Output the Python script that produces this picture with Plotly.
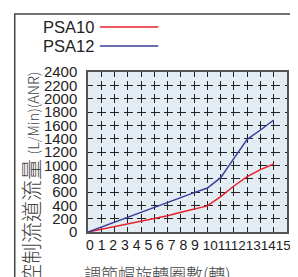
import plotly.graph_objects as go

# ---- data ----
turns = list(range(15))
psa10 = [0, 40, 80, 118, 158, 200, 245, 295, 345, 392, 530, 690, 830, 935, 1020]
psa12 = [0, 75, 148, 220, 292, 365, 440, 515, 590, 660, 815, 1105, 1390, 1530, 1680]
series_names = ["PSA10", "PSA12"]
series_colors = ["#e8202a", "#3a3d9c"]
y_ticks = list(range(0, 2401, 200))
x_tick_labels = [str(i) for i in range(16)]
x_title = "調節帽旋轉圈數(轉)"
y_title_cjk = "控制流道流量"
y_title_unit = "(L/Min)(ANR)"

OFF = 8  # page body margin
W, H = 298 - OFF, 277 - OFF
# plot area in page pixels
PL, PR, PT, PB = 88, 289, 72, 232
L, R, T, B = PL - OFF, PR - OFF, PT - OFF, PB - OFF


def px(xp):
    return (xp - PL) / (PR - PL)


def py(yp):
    return (PB - yp) / (PB - PT)


fig = go.Figure()
for name, vals, col in zip(series_names, [psa10, psa12], series_colors):
    fig.add_trace(go.Scatter(x=turns, y=vals, mode="lines", name=name,
                             line=dict(color=col, width=1.5), showlegend=False))

grid_common = dict(showgrid=True, gridcolor="#222", gridwidth=1.2,
                   showline=True, linecolor="#555", linewidth=1.5, mirror=True,
                   zeroline=False, ticks="")
fig.update_xaxes(range=[0, 15], dtick=1, tick0=0, showticklabels=False,
                 griddash="4.5px,4.33px,4.5px,0px", **grid_common)
fig.update_yaxes(range=[0, 2400], tickvals=y_ticks, ticktext=[str(v) for v in y_ticks],
                 griddash="4.5px,4.4px,4.5px,0px", ticklabelstandoff=6,
                 tickfont=dict(family="Liberation Sans", size=15, color="#222"),
                 **grid_common)

shapes = [
    # outer frame
    dict(type="rect", xref="paper", yref="paper", x0=px(14), x1=1.3, y0=-0.6, y1=py(14),
         line=dict(color="#444", width=1.5), fillcolor="rgba(0,0,0,0)", layer="below"),
]
annotations = []
for i, (name, col) in enumerate(zip(series_names, series_colors)):
    yy = py(27 + 19 * i)
    shapes.append(dict(type="line", xref="paper", yref="paper", x0=px(100), x1=px(159),
                       y0=yy, y1=yy, line=dict(color=col, width=1.5)))
    annotations.append(dict(text=name, xref="paper", yref="paper", x=px(96), y=yy,
                            xanchor="right", yanchor="middle", showarrow=False,
                            font=dict(family="Liberation Sans", size=16.5, color="#222")))

row = " ".join(x_tick_labels[:10]) + " " + "<span style='font-size:13.5px'>" + "".join(x_tick_labels[10:]) + "</span>"
annotations.append(dict(text=row, xref="paper", yref="paper", x=px(84), y=py(245),
                        xanchor="left", yanchor="middle", showarrow=False,
                        font=dict(family="Liberation Sans", size=14, color="#222")))
annotations.append(dict(text=x_title, xref="paper", yref="paper", x=px(82), y=py(273),
                        xanchor="left", yanchor="middle", showarrow=False,
                        font=dict(family="Noto Sans CJK TC", size=17, color="#444", weight=300)))
annotations.append(dict(text=y_title_cjk + " <span style='font-size:14.5px'>" + y_title_unit + "</span>",
                        xref="paper", yref="paper", x=px(29.5), y=py(178), textangle=-90,
                        xanchor="center", yanchor="middle", showarrow=False,
                        font=dict(family="Noto Sans CJK TC", size=21, color="#444", weight=300)))

fig.update_layout(width=W, height=H, margin=dict(l=L, r=W - R, t=T, b=H - B),
                  paper_bgcolor="white", plot_bgcolor="#e3ecf3",
                  shapes=shapes, annotations=annotations, showlegend=False)

fig.write_html("out.html")
